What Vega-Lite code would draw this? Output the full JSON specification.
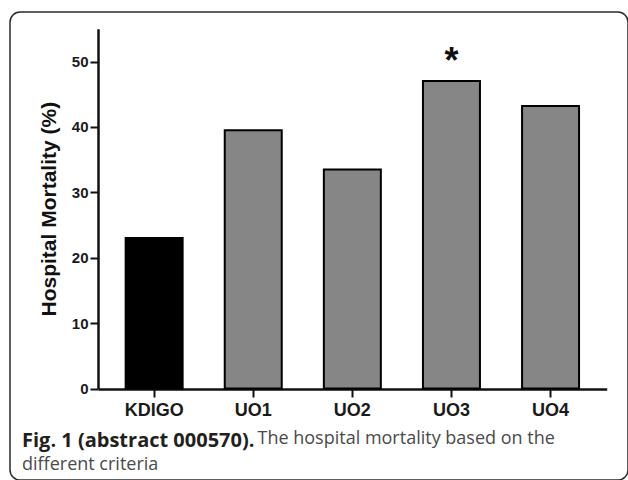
{
  "$schema": "https://vega.github.io/schema/vega-lite/v6.json",
  "autosize": {"type": "none"},
  "width": 618,
  "height": 468,
  "padding": {"left": 10, "top": 12, "right": 0, "bottom": 0},
  "background": "white",
  "config": {
    "view": {"stroke": "#2a2a2a", "strokeWidth": 1.5, "cornerRadius": 10, "fill": "white"},
    "axis": {"grid": false}
  },
  "title": {
    "text": "Fig. 1 (abstract 000570).",
    "subtitle": "different criteria",
    "orient": "bottom",
    "anchor": "start",
    "frame": "group",
    "offset": -49,
    "dx": 12,
    "font": "Open Sans",
    "fontSize": 20,
    "fontWeight": "bold",
    "color": "#231f20",
    "subtitleFont": "Open Sans",
    "subtitleFontSize": 18,
    "subtitleFontWeight": "normal",
    "subtitleColor": "#4a4a4a",
    "subtitlePadding": 5
  },
  "data": {
    "values": [
      {"criteria": "KDIGO", "mortality": 23.0, "group": "KDIGO", "sig": ""},
      {"criteria": "UO1", "mortality": 39.5, "group": "UO", "sig": ""},
      {"criteria": "UO2", "mortality": 33.5, "group": "UO", "sig": ""},
      {"criteria": "UO3", "mortality": 47.0, "group": "UO", "sig": "*"},
      {"criteria": "UO4", "mortality": 43.2, "group": "UO", "sig": ""}
    ]
  },
  "encoding": {
    "x": {
      "field": "criteria",
      "type": "nominal",
      "sort": null,
      "scale": {"range": [88, 596.7], "paddingInner": 0.425, "paddingOuter": 0.279},
      "axis": {
        "orient": "bottom",
        "offset": -91,
        "labelAngle": 0,
        "labelFont": "Liberation Sans",
        "labelFontWeight": "bold",
        "labelFontSize": 18,
        "labelColor": "#1a1a1a",
        "labelPadding": 4,
        "tickSize": 8,
        "tickWidth": 2,
        "tickColor": "#111",
        "domainColor": "#111",
        "domainWidth": 2.5,
        "title": "The hospital mortality based on the",
        "titleFont": "Open Sans",
        "titleFontSize": 18,
        "titleFontWeight": "normal",
        "titleColor": "#4a4a4a",
        "titleAlign": "left",
        "titleAnchor": "start",
        "titleBaseline": "alphabetic",
        "titleX": 247,
        "titleY": 54
      }
    },
    "y": {
      "field": "mortality",
      "type": "quantitative",
      "scale": {"domain": [0, 55], "range": [376.5, 16.8], "nice": false, "zero": true},
      "axis": {
        "orient": "left",
        "offset": -88,
        "values": [0, 10, 20, 30, 40, 50],
        "labelFont": "Liberation Sans",
        "labelFontWeight": "bold",
        "labelFontSize": 15,
        "labelColor": "#1a1a1a",
        "labelPadding": 2,
        "tickSize": 8,
        "tickWidth": 2,
        "tickColor": "#111",
        "domainColor": "#111",
        "domainWidth": 2.5,
        "title": "Hospital Mortality (%)",
        "titleFont": "Liberation Sans",
        "titleFontWeight": "bold",
        "titleFontSize": 21,
        "titleColor": "#111",
        "titlePadding": 12
      }
    }
  },
  "layer": [
    {
      "mark": {"type": "bar", "stroke": "#000", "strokeWidth": 2},
      "encoding": {
        "color": {
          "field": "group",
          "type": "nominal",
          "scale": {"domain": ["KDIGO", "UO"], "range": ["#000000", "#868686"]},
          "legend": null
        }
      }
    },
    {
      "mark": {"type": "text", "font": "Liberation Sans", "fontWeight": "bold", "fontSize": 36, "baseline": "alphabetic", "dy": -8, "color": "#111"},
      "encoding": {
        "text": {"field": "sig"}
      }
    }
  ]
}
